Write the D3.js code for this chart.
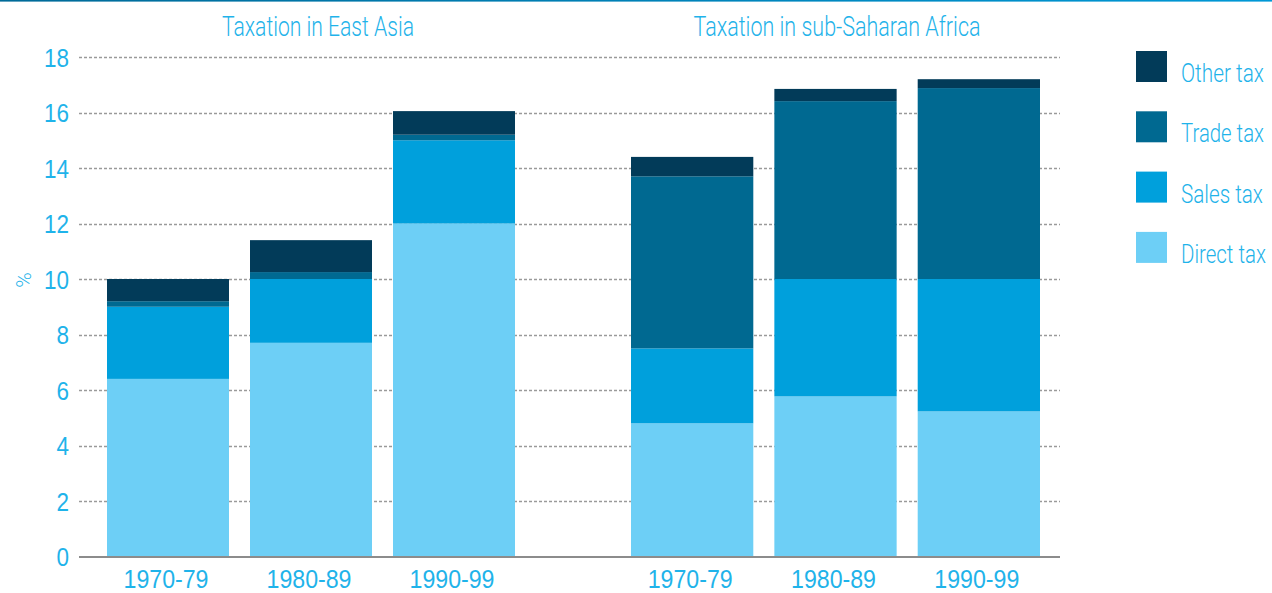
<!DOCTYPE html>
<html>
<head>
<meta charset="utf-8">
<script src="https://cdn.jsdelivr.net/npm/d3@7/dist/d3.min.js"></script>
<style>
  html, body { margin: 0; padding: 0; background: #fff; }
  svg { display: block; font-family: Roboto, "Liberation Sans", sans-serif; }
</style>
</head>
<body>
<svg id="chart" width="1272" height="593"></svg>
<script>
// Tax revenue as % of GDP, by decade
const periods = ["1970-79", "1980-89", "1990-99"];
const regions = ["Taxation in East Asia", "Taxation in sub-Saharan Africa"];
const taxTypes = ["Direct tax", "Sales tax", "Trade tax", "Other tax"];

// East Asia
const eastAsiaDirect = [6.4, 7.7, 12.0];
const eastAsiaSales  = [2.6, 2.3, 3.0];
const eastAsiaTrade  = [0.2, 0.25, 0.2];
const eastAsiaOther  = [0.8, 1.15, 0.85];

// sub-Saharan Africa
const africaDirect = [4.8, 5.77, 5.23];
const africaSales  = [2.7, 4.23, 4.77];
const africaTrade  = [6.2, 6.41, 6.88];
const africaOther  = [0.7, 0.44, 0.32];

const yTicks = [0, 2, 4, 6, 8, 10, 12, 14, 16, 18];

const colors = {
  "Direct tax": "#6dcff6",
  "Sales tax":  "#00a0dc",
  "Trade tax":  "#006991",
  "Other tax":  "#023b59"
};
const textColor = "#1fb3ea";

const svg = d3.select("#chart");

// thin rule across the top edge
const grad = svg.append("defs").append("linearGradient")
  .attr("id", "topRule").attr("x1", "0%").attr("x2", "100%");
grad.append("stop").attr("offset", "0%").attr("stop-color", "#006a98");
grad.append("stop").attr("offset", "100%").attr("stop-color", "#0098d6");
svg.append("rect").attr("x", 0).attr("y", 0).attr("width", 1272).attr("height", 1.6)
  .attr("fill", "url(#topRule)");

const y = d3.scaleLinear().domain([0, 18]).range([556.5, 57]);
const plotLeft = 79, plotRight = 1060;

// dashed gridlines
svg.append("g").selectAll("line")
  .data(yTicks.filter(t => t > 0))
  .join("line")
  .attr("x1", plotLeft).attr("x2", plotRight)
  .attr("y1", d => Math.round(y(d)) + 0.5).attr("y2", d => Math.round(y(d)) + 0.5)
  .attr("stroke", "#9a9a9a").attr("stroke-width", 1.3)
  .attr("stroke-dasharray", "3,2");

// y axis labels
const yAxis = d3.axisLeft(y).tickValues(yTicks).tickSize(0).tickPadding(0).tickFormat(d3.format("d"));
const yg = svg.append("g").attr("transform", `translate(69,0)`).call(yAxis);
yg.select(".domain").remove();
yg.selectAll("text")
  .attr("fill", textColor)
  .attr("font-size", 26).attr("font-weight", 300)
  .attr("dy", "0.36em")
  .attr("textLength", d => String(d).length * 12.5)
  .attr("lengthAdjust", "spacingAndGlyphs");

svg.append("text")
  .attr("transform", "translate(31,280) rotate(-90)")
  .attr("text-anchor", "middle")
  .attr("fill", textColor).attr("font-size", 21).attr("font-weight", 300)
  .text("%");

// one band scale per region
const groups = [
  { title: regions[0], range: [107, 515], center: 318, titleLen: 192,
    values: { "Direct tax": eastAsiaDirect, "Sales tax": eastAsiaSales, "Trade tax": eastAsiaTrade, "Other tax": eastAsiaOther } },
  { title: regions[1], range: [631, 1040], center: 837, titleLen: 287,
    values: { "Direct tax": africaDirect, "Sales tax": africaSales, "Trade tax": africaTrade, "Other tax": africaOther } }
];

groups.forEach(g => {
  const x = d3.scaleBand().domain(periods).range(g.range).paddingInner(21 / 143).paddingOuter(0);
  const rows = periods.map((p, i) => {
    const r = { period: p };
    taxTypes.forEach(t => { r[t] = g.values[t][i]; });
    return r;
  });
  const stacked = d3.stack().keys(taxTypes)(rows);

  svg.append("g").selectAll("g")
    .data(stacked)
    .join("g")
    .attr("fill", d => colors[d.key])
    .selectAll("rect")
    .data(d => d)
    .join("rect")
    .attr("x", d => x(d.data.period))
    .attr("width", x.bandwidth())
    .attr("y", d => y(d[1]))
    .attr("height", d => y(d[0]) - y(d[1]));

  // period labels
  const xAxis = d3.axisBottom(x).tickSize(0).tickPadding(0);
  const xg = svg.append("g").attr("transform", "translate(-2,588)").call(xAxis);
  xg.select(".domain").remove();
  xg.selectAll("text")
    .attr("fill", textColor).attr("font-size", 25).attr("font-weight", 300)
    .attr("dy", 0)
    .attr("textLength", 85).attr("lengthAdjust", "spacingAndGlyphs");

  svg.append("text")
    .attr("x", g.center).attr("y", 36)
    .attr("text-anchor", "middle")
    .attr("fill", textColor).attr("font-size", 27).attr("font-weight", 300)
    .attr("textLength", g.titleLen).attr("lengthAdjust", "spacingAndGlyphs")
    .text(g.title);
});

// baseline
svg.append("line")
  .attr("x1", plotLeft).attr("x2", plotRight)
  .attr("y1", y(0) + 0.5).attr("y2", y(0) + 0.5)
  .attr("stroke", "#8c8c8c").attr("stroke-width", 2);

// legend, top entry is the top of the stack; labels squeezed horizontally
const legendItems = taxTypes.slice().reverse();
const legendLens = { "Other tax": 83, "Trade tax": 83, "Sales tax": 82, "Direct tax": 85 };
const lg = svg.append("g").selectAll("g")
  .data(legendItems)
  .join("g")
  .attr("transform", (d, i) => `translate(1136,${51 + i * 60.3})`);
lg.append("rect").attr("width", 31).attr("height", 31).attr("fill", d => colors[d]);
lg.append("text")
  .attr("fill", textColor).attr("font-size", 25).attr("font-weight", 300)
  .text(d => d)
  .attr("transform", function (d) {
    const w = this.getComputedTextLength() || legendLens[d];
    return `translate(45,31) scale(${legendLens[d] / w},1)`;
  });
</script>
</body>
</html>
